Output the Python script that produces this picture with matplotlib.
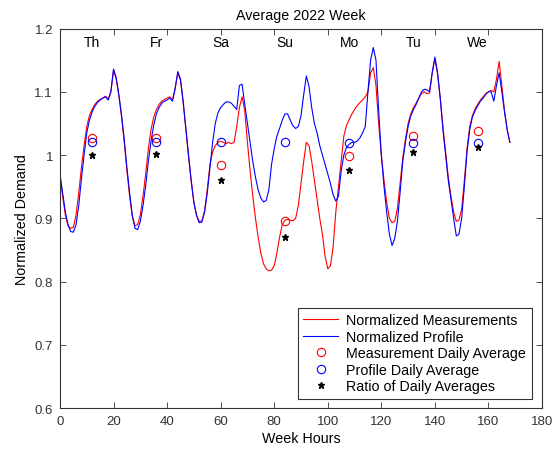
import numpy as np
import matplotlib
matplotlib.use("Agg")
import matplotlib.pyplot as plt

plt.rcParams['font.family'] = ['Liberation Sans', 'DejaVu Sans']

# hourly values over the week (hour 0..168)
hours = np.arange(169)

profile = [
    0.970, 0.940, 0.910, 0.890, 0.879, 0.878, 0.890, 0.920, 0.962, 1.000,
    1.035, 1.055, 1.068, 1.077, 1.083, 1.087, 1.090, 1.092, 1.087, 1.100,
    1.136, 1.122, 1.095, 1.063, 1.025, 0.980, 0.940, 0.905, 0.884, 0.882,
    0.895, 0.920, 0.952, 0.990, 1.022, 1.047, 1.065, 1.075, 1.082, 1.085,
    1.087, 1.090, 1.085, 1.105, 1.132, 1.120, 1.085, 1.042, 1.000, 0.960,
    0.925, 0.904, 0.893, 0.894, 0.910, 0.940, 0.980, 1.020, 1.050, 1.067,
    1.075, 1.080, 1.084, 1.084, 1.082, 1.077, 1.072, 1.110, 1.112, 1.080,
    1.050, 1.020, 0.990, 0.965, 0.945, 0.932, 0.926, 0.928, 0.945, 0.985,
    1.010, 1.030, 1.042, 1.055, 1.065, 1.065, 1.055, 1.046, 1.042, 1.045,
    1.062, 1.095, 1.125, 1.108, 1.075, 1.050, 1.035, 1.015, 1.000, 0.985,
    0.970, 0.955, 0.937, 0.927, 0.935, 0.975, 1.000, 1.012, 1.017, 1.020,
    1.020, 1.022, 1.027, 1.035, 1.045, 1.100, 1.150, 1.170, 1.150, 1.070,
    1.000, 0.950, 0.910, 0.875, 0.857, 0.868, 0.895, 0.940, 0.990, 1.020,
    1.045, 1.062, 1.072, 1.080, 1.090, 1.100, 1.104, 1.103, 1.100, 1.130,
    1.155, 1.130, 1.090, 1.040, 1.000, 0.960, 0.930, 0.900, 0.872, 0.875,
    0.900, 0.950, 1.005, 1.040, 1.060, 1.070, 1.078, 1.085, 1.090, 1.096,
    1.100, 1.100, 1.085, 1.110, 1.130, 1.100, 1.068, 1.040, 1.020,
]

measured = [
    0.965, 0.935, 0.905, 0.888, 0.884, 0.886, 0.905, 0.940, 0.980, 1.015,
    1.045, 1.062, 1.072, 1.080, 1.085, 1.088, 1.090, 1.093, 1.088, 1.100,
    1.134, 1.120, 1.093, 1.060, 1.020, 0.975, 0.935, 0.903, 0.888, 0.890,
    0.905, 0.935, 0.970, 1.010, 1.040, 1.060, 1.072, 1.080, 1.085, 1.088,
    1.090, 1.092, 1.087, 1.105, 1.130, 1.118, 1.083, 1.040, 0.998, 0.958,
    0.925, 0.905, 0.895, 0.896, 0.912, 0.945, 0.985, 1.005, 1.015, 1.020,
    1.022, 1.020, 1.018, 1.020, 1.018, 1.020, 1.045, 1.075, 1.092, 1.070,
    1.020, 0.975, 0.935, 0.900, 0.870, 0.845, 0.828, 0.820, 0.817, 0.818,
    0.825, 0.845, 0.870, 0.890, 0.897, 0.898, 0.897, 0.896, 0.900, 0.920,
    0.955, 0.990, 1.020, 1.015, 0.990, 0.960, 0.930, 0.900, 0.875, 0.840,
    0.820, 0.825, 0.855, 0.910, 0.950, 0.990, 1.030, 1.047, 1.056, 1.065,
    1.072, 1.078, 1.083, 1.087, 1.092, 1.100, 1.130, 1.138, 1.110, 1.050,
    1.000, 0.960, 0.925, 0.900, 0.893, 0.895, 0.915, 0.955, 0.995, 1.025,
    1.050, 1.065, 1.075, 1.082, 1.090, 1.097, 1.100, 1.097, 1.098, 1.130,
    1.152, 1.128, 1.090, 1.045, 1.005, 0.965, 0.935, 0.910, 0.895, 0.897,
    0.915, 0.960, 1.010, 1.045, 1.062, 1.073, 1.080, 1.087, 1.092, 1.097,
    1.100, 1.102, 1.100, 1.120, 1.148, 1.110, 1.070, 1.040, 1.020,
]

# daily averages
day_hours = [12, 36, 60, 84, 108, 132, 156]
day_names = ['Th', 'Fr', 'Sa', 'Su', 'Mo', 'Tu', 'We']
meas_avg = [1.027, 1.027, 0.984, 0.895, 0.998, 1.030, 1.038]
prof_avg = [1.020, 1.020, 1.020, 1.020, 1.019, 1.019, 1.019]
ratio_avg = [1.000, 1.001, 0.960, 0.870, 0.976, 1.004, 1.012]

fig = plt.figure(figsize=(5.59, 4.52), dpi=100)
ax = fig.add_axes([0.1073, 0.0951, 0.8623, 0.8396])

ax.plot(hours, measured, color='red', lw=0.8, label='Normalized Measurements')
ax.plot(hours, profile, color='blue', lw=0.8, label='Normalized Profile')
ax.plot(day_hours, meas_avg, 'o', mfc='none', mec='red', ms=6, mew=0.8,
        label='Measurement Daily Average')
ax.plot(day_hours, prof_avg, 'o', mfc='none', mec='blue', ms=6, mew=0.8,
        label='Profile Daily Average')
ax.plot(day_hours, ratio_avg, '*', color='black', ms=5,
        label='Ratio of Daily Averages')

for h, name in zip(day_hours, day_names):
    ax.text(h, 1.179, name, ha='center', va='center', fontsize=10)

ax.set_xlim(0, 180)
ax.set_ylim(0.6, 1.2)
ax.set_xticks(range(0, 181, 20))
ax.set_yticks([0.6, 0.7, 0.8, 0.9, 1.0, 1.1, 1.2])
ax.set_yticklabels(['0.6', '0.7', '0.8', '0.9', '1', '1.1', '1.2'])
ax.tick_params(direction='in', top=True, right=True, length=4, width=0.6,
               labelsize=9.5, colors='#333333', pad=5)
for s in ax.spines.values():
    s.set_linewidth(0.8)
    s.set_color('#333333')

ax.set_title('Average 2022 Week', fontsize=10.3, pad=7)
ax.set_xlabel('Week Hours', fontsize=10.3, labelpad=3)
ax.set_ylabel('Normalized Demand', fontsize=10.3, labelpad=4)

leg = ax.legend(loc='lower right', bbox_to_anchor=(0.979, 0.024),
                fontsize=10.3, frameon=True, fancybox=False,
                edgecolor='black', handlelength=2.4, borderpad=0.4,
                labelspacing=0.17, handletextpad=0.6, borderaxespad=0)
leg.get_frame().set_linewidth(0.8)

fig.savefig('out.png', dpi=100)
